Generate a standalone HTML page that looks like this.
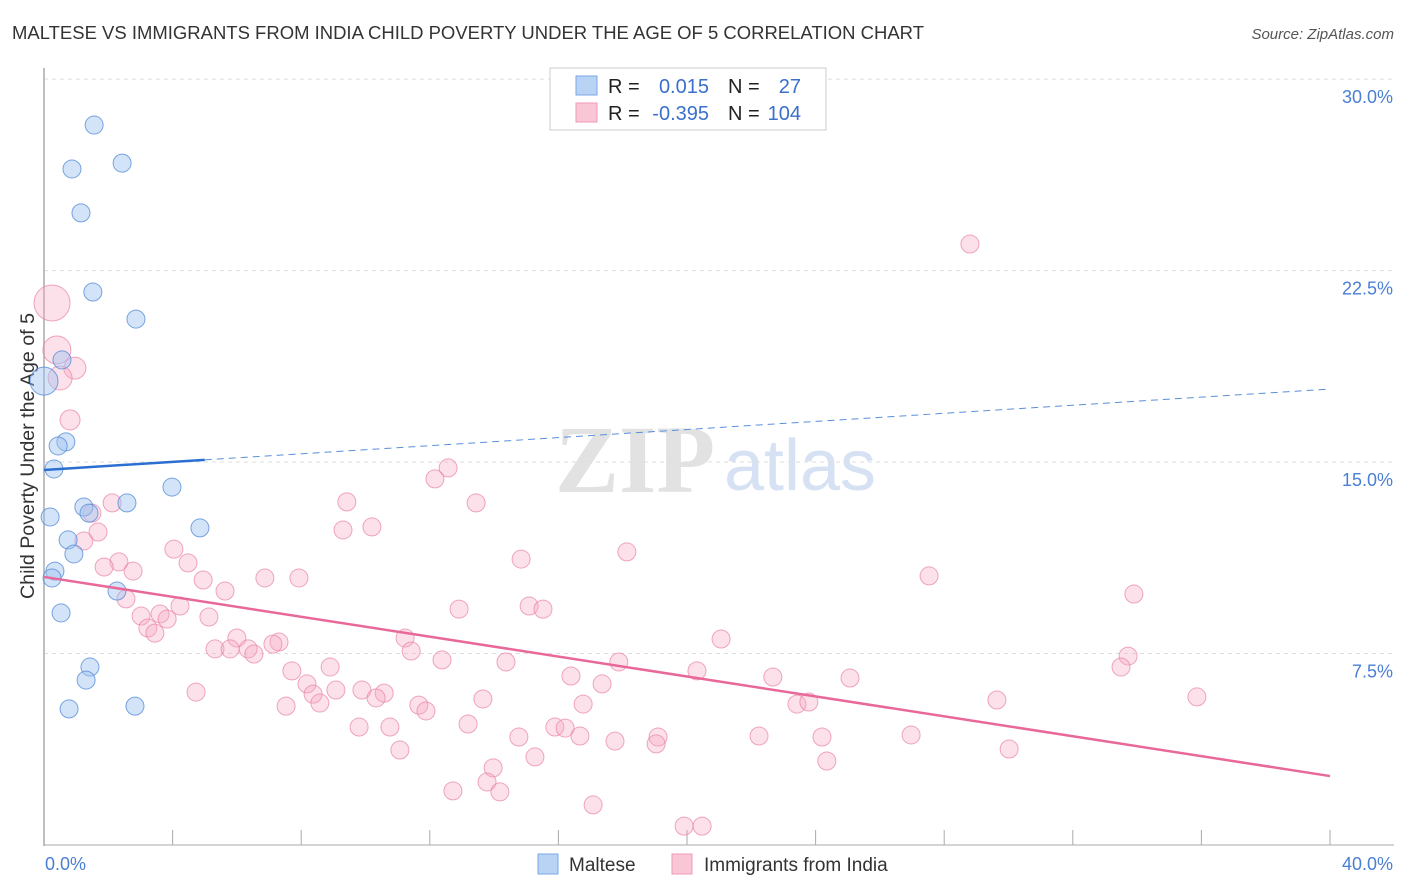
<!DOCTYPE html>
<html><head><meta charset="utf-8"><style>
body{margin:0;background:#fff;font-family:"Liberation Sans",sans-serif;}
svg{display:block}
</style></head><body>
<svg id="chart" width="1406" height="892">
<text x="12" y="39" font-size="18" fill="#333" textLength="912" lengthAdjust="spacingAndGlyphs">MALTESE VS IMMIGRANTS FROM INDIA CHILD POVERTY UNDER THE AGE OF 5 CORRELATION CHART</text>
<text x="1394" y="39" font-size="15" font-style="italic" fill="#555" text-anchor="end">Source: ZipAtlas.com</text>
<g>
<text x="635" y="492" font-size="96" font-family="Liberation Serif,serif" fill="#e2e2e2" text-anchor="middle" font-weight="bold">ZIP</text>
<text x="800" y="490" font-size="72" fill="#d6e2f3" text-anchor="middle">atlas</text>
</g>
<g id="grid"></g>
<line x1="44" y1="68" x2="44" y2="846" stroke="#aaa" stroke-width="1.5"/>
<line x1="44" y1="845" x2="1394" y2="845" stroke="#aaa" stroke-width="1"/>
<g id="xticks"></g>
<text x="34" y="456" font-size="19" fill="#333" text-anchor="middle" transform="rotate(-90 34 456)" textLength="286" lengthAdjust="spacingAndGlyphs">Child Poverty Under the Age of 5</text>
<text x="45" y="870" font-size="18" fill="#4a7fd4">0.0%</text>
<text x="1393" y="870" font-size="18" fill="#4a7fd4" text-anchor="end">40.0%</text>
<g id="pts"></g>
<g id="trends"></g>
<g>
<rect x="550" y="68" width="276" height="62" fill="#fff" stroke="#ccc"/>
<rect x="576" y="76" width="21" height="19" fill="#b9d3f5" stroke="#7aa7e6"/>
<rect x="576" y="103" width="21" height="19" fill="#f9c6d5" stroke="#ee9ab4"/>
<text x="608" y="93" font-size="20" fill="#222">R =</text>
<text x="709" y="93" font-size="20" fill="#3a70cc" text-anchor="end">0.015</text>
<text x="728" y="93" font-size="20" fill="#222">N =</text>
<text x="801" y="93" font-size="20" fill="#3a70cc" text-anchor="end">27</text>
<text x="608" y="120" font-size="20" fill="#222">R =</text>
<text x="709" y="120" font-size="20" fill="#3a70cc" text-anchor="end">-0.395</text>
<text x="728" y="120" font-size="20" fill="#222">N =</text>
<text x="801" y="120" font-size="20" fill="#3a70cc" text-anchor="end">104</text>
</g>
<g>
<rect x="538" y="854" width="20" height="20" fill="#b9d3f5" stroke="#7aa7e6"/>
<text x="569" y="871" font-size="19" fill="#333">Maltese</text>
</g>
<g>
<rect x="672" y="854" width="20" height="20" fill="#f9c6d5" stroke="#ee9ab4"/>
<text x="704" y="871" font-size="19" fill="#333">Immigrants from India</text>
</g>
</svg>
<script>
const yTicks=[7.5,15,22.5,30];
const yTickLabels=["7.5%","15.0%","22.5%","30.0%"];
const maltX=[1.56,0.87,2.43,1.15,1.52,2.86,0.56,0,0.68,0.44,0.31,3.98,1.24,2.58,1.40,0.19,4.85,0.75,0.93,0.34,0.25,2.27,0.53,1.43,1.31,0.78,2.83];
const maltY=[28.2,26.48,26.71,24.76,21.66,20.60,19.00,18.17,15.79,15.63,14.73,14.02,13.24,13.40,13.00,12.85,12.42,11.95,11.40,10.73,10.46,9.95,9.09,6.97,6.46,5.33,5.44];
const indX=[0.25,0.40,0.96,0.50,0.81,12.57,12.16,9.42,13.44,2.12,1.49,9.30,10.20,1.68,1.24,14.84,18.13,4.04,2.33,1.87,4.48,2.77,27.53,6.87,7.93,4.95,5.63,2.55,33.90,4.23,12.91,15.09,15.52,3.02,3.61,3.83,5.13,3.23,3.45,6.00,11.23,21.06,7.31,5.32,5.79,6.35,6.53,7.12,11.42,12.38,33.72,17.88,14.37,7.71,8.90,33.50,20.31,16.39,22.67,25.07,8.18,17.36,4.73,9.08,9.89,10.58,8.37,10.33,13.65,8.58,16.77,7.53,11.66,11.88,23.42,23.79,29.64,35.86,9.80,10.76,13.19,15.89,16.21,14.77,16.67,19.10,17.76,19.04,22.24,24.20,26.97,11.07,15.27,30.02,13.97,24.35,13.78,12.72,14.18,17.08,19.91,20.47,28.80];
const indY=[21.23,19.39,18.68,18.29,16.65,14.77,14.34,13.44,13.40,13.40,13.00,12.34,12.46,12.26,11.91,11.20,11.48,11.59,11.09,10.89,11.05,10.73,10.54,10.46,10.46,10.38,9.95,9.64,9.83,9.36,9.24,9.36,9.24,8.97,9.05,8.85,8.93,8.50,8.30,8.11,8.11,8.07,7.95,7.68,7.68,7.68,7.48,7.87,7.60,7.25,7.40,7.17,7.17,6.82,6.97,6.97,6.82,6.62,6.58,6.54,6.31,6.31,5.99,6.07,6.07,5.95,5.91,5.76,5.72,5.56,5.52,5.44,5.48,5.25,5.52,5.60,5.68,5.80,4.62,4.62,4.74,4.62,4.58,4.23,4.27,4.23,4.07,3.96,4.27,4.23,4.31,3.72,3.45,3.76,3.02,3.29,2.47,2.12,2.08,1.57,0.74,0.74,23.54];
const maltR=[9,9,9,9,9,9,9,14,9,9,9,9,9,9,9,9,9,9,9,9,9,9,9,9,9,9,9];
const indR=[18,14,11,12,10];
const maltTrend=[14.69,17.86];
const indTrend=[10.50,2.70];
const NS='http://www.w3.org/2000/svg';
const X=v=>44+v/40*1286, Y=v=>845-v*25.53;
function mk(t,a,p){const e=document.createElementNS(NS,t);for(const k in a)e.setAttribute(k,a[k]);p.appendChild(e);return e;}
const grid=document.getElementById('grid');
yTicks.forEach((t,i)=>{
 const l=mk('line',{x1:44,x2:1394,y1:Y(t),y2:Y(t),stroke:'#ddd','stroke-dasharray':'4 4'},grid);
 
 
 const tx=mk('text',{x:1393,y:Y(t)+24,'font-size':18,fill:'#4a7fd4','text-anchor':'end'},grid);
 tx.textContent=yTickLabels[i];
 
 
});
const xt=document.getElementById('xticks');
for(let i=1;i<=10;i++){
 const l=mk('line',{x1:X(i*4),x2:X(i*4),y1:830,y2:845,stroke:'#aaa'},xt);
 
 
}
const pts=document.getElementById('pts');
indX.forEach((v,i)=>{
 const c=mk('circle',{cx:X(v),cy:Y(indY[i]),r:indR[i]||9,fill:'rgba(246,170,195,0.35)',stroke:'rgba(232,130,165,0.7)','stroke-width':1},pts);
 
 
});
maltX.forEach((v,i)=>{
 const c=mk('circle',{cx:X(v),cy:Y(maltY[i]),r:maltR[i],fill:'rgba(160,195,240,0.45)',stroke:'rgba(80,135,215,0.75)','stroke-width':1},pts);
 
 
});
const tr=document.getElementById('trends');
const bAt=v=>maltTrend[0]+(maltTrend[1]-maltTrend[0])*v/40;
let l1=mk('line',{x1:X(0),y1:Y(bAt(0)),x2:X(5),y2:Y(bAt(5)),stroke:'#2b6fd1','stroke-width':2.5},tr);


let l2=mk('line',{x1:X(5),y1:Y(bAt(5)),x2:X(40),y2:Y(bAt(40)),stroke:'#5a8fd8','stroke-width':1,'stroke-dasharray':'7 5'},tr);


let l3=mk('line',{x1:X(0),y1:Y(indTrend[0]),x2:X(40),y2:Y(indTrend[1]),stroke:'#e8689a','stroke-width':2.5},tr);


</script>
</body></html>
